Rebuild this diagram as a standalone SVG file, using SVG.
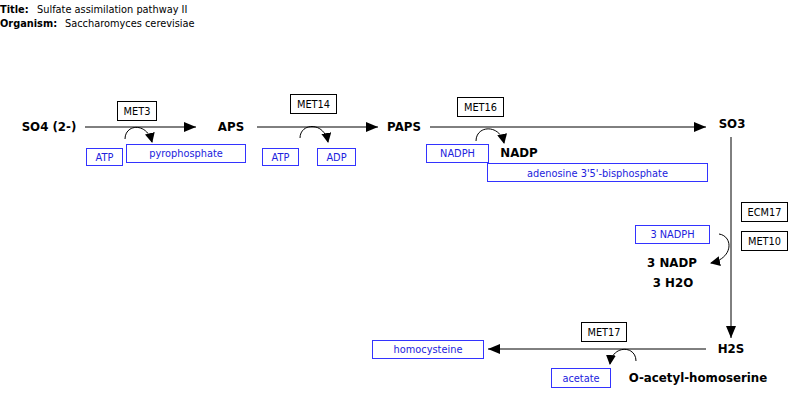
<svg xmlns="http://www.w3.org/2000/svg" width="800" height="401" viewBox="0 0 800 401">
<defs>
<marker id="ah" markerWidth="12" markerHeight="10" refX="12" refY="5" orient="auto" markerUnits="userSpaceOnUse"><path d="M0,0 L12,5 L0,10 Z" fill="#000"/></marker>
<marker id="ah2" markerWidth="10" markerHeight="10" refX="9" refY="5" orient="auto" markerUnits="userSpaceOnUse"><path d="M0,0 L10,5 L0,10 Z" fill="#000"/></marker>
</defs>
<style>
text{font-family:"DejaVu Sans",sans-serif}
.t{font-size:9.8px}
.tb{font-size:9.8px;font-weight:bold}
.n{font-size:11.8px;font-weight:bold;text-anchor:middle}
.e rect{fill:#fff;stroke:#000;stroke-width:1}
.e text{font-size:9.8px;text-anchor:middle;fill:#000}
.s rect{fill:#fff;stroke:#3333ff;stroke-width:1}
.s text{font-size:9.8px;text-anchor:middle;fill:#2222dd}
.ln{stroke:#000;stroke-width:1;fill:none}
</style>
<text x="0" y="13" class="tb">Title:</text><text x="37" y="13" class="t">Sulfate assimilation pathway II</text>
<text x="0" y="27" class="tb">Organism:</text><text x="65" y="27" class="t">Saccharomyces cerevisiae</text>
<g id="connectors">
<line class="ln" x1="85" y1="127" x2="196" y2="127" marker-end="url(#ah)"/>
<line class="ln" x1="257" y1="127" x2="378" y2="127" marker-end="url(#ah)"/>
<line class="ln" x1="430" y1="127" x2="706" y2="127" marker-end="url(#ah)"/>
<line class="ln" x1="731" y1="137" x2="731" y2="338" marker-end="url(#ah)"/>
<line class="ln" x1="706" y1="349" x2="488" y2="349" marker-end="url(#ah)"/>
<path class="ln" d="M125,139 C125,124 147,122 152,142" marker-end="url(#ah2)"/>
<path class="ln" d="M300,138 C300,123 324,121 328,142" marker-end="url(#ah2)"/>
<path class="ln" d="M476,141 C476,125 500,124 504,143" marker-end="url(#ah2)"/>
<path class="ln" d="M719,234 C733,236 734,258 711,263" marker-end="url(#ah2)"/>
<path class="ln" d="M636,361 C636,345 612,345 610,364" marker-end="url(#ah2)"/>
</g>
<g id="SO4"><text x="49" y="131" class="n">SO4 (2-)</text></g>
<g id="APS"><text x="231" y="131" class="n">APS</text></g>
<g id="PAPS"><text x="404" y="131" class="n">PAPS</text></g>
<g id="SO3"><text x="732" y="128" class="n">SO3</text></g>
<g id="H2S"><text x="731" y="353" class="n">H2S</text></g>
<g id="NADP"><text x="519" y="157" class="n">NADP</text></g>
<g id="NADP3"><text x="672" y="267" class="n">3 NADP</text></g>
<g id="H2O3"><text x="673" y="287" class="n">3 H2O</text></g>
<g id="OAH"><text x="698" y="382" class="n">O-acetyl-homoserine</text></g>
<g id="MET3" class="e"><rect x="117.5" y="101.5" width="39" height="19"/><text x="137" y="114.5">MET3</text></g>
<g id="MET14" class="e"><rect x="290.5" y="94.5" width="46" height="19"/><text x="313.5" y="107.5">MET14</text></g>
<g id="MET16" class="e"><rect x="457.5" y="97.5" width="46" height="19"/><text x="480.5" y="110.5">MET16</text></g>
<g id="ECM17" class="e"><rect x="741.5" y="202.5" width="46" height="19"/><text x="764.5" y="215.5">ECM17</text></g>
<g id="MET10" class="e"><rect x="741.5" y="231.5" width="46" height="19"/><text x="764.5" y="244.5">MET10</text></g>
<g id="MET17" class="e"><rect x="581.5" y="322.5" width="45" height="19"/><text x="604" y="335.5">MET17</text></g>
<g id="ATP1" class="s"><rect x="86.5" y="148.5" width="36" height="17"/><text x="104.5" y="160.5">ATP</text></g>
<g id="PPi" class="s"><rect x="126.5" y="144.5" width="119" height="18"/><text x="186" y="156.5">pyrophosphate</text></g>
<g id="ATP2" class="s"><rect x="262.5" y="148.5" width="36" height="17"/><text x="280.5" y="160.5">ATP</text></g>
<g id="ADP" class="s"><rect x="317.5" y="148.5" width="38" height="17"/><text x="336.5" y="160.5">ADP</text></g>
<g id="NADPH" class="s"><rect x="426.5" y="144.5" width="62" height="18"/><text x="457.5" y="156.5">NADPH</text></g>
<g id="PAP" class="s"><rect x="487.5" y="163.5" width="220" height="18"/><text x="597.5" y="176.5">adenosine 3'5'-bisphosphate</text></g>
<g id="NADPH3" class="s"><rect x="635.5" y="225.5" width="74" height="18"/><text x="672.5" y="237.5">3 NADPH</text></g>
<g id="HCY" class="s"><rect x="372.5" y="340.5" width="111" height="18"/><text x="428" y="352.5">homocysteine</text></g>
<g id="ACE" class="s"><rect x="551.5" y="368.5" width="59" height="19"/><text x="581" y="381.5">acetate</text></g>
</svg>
